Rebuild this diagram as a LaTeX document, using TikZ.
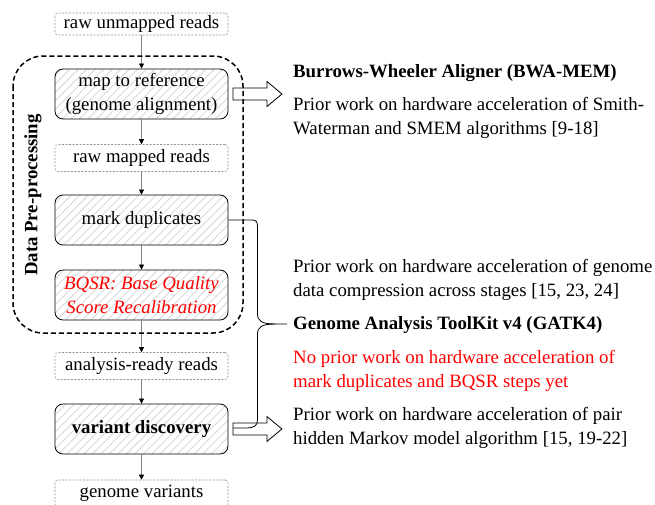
\documentclass[tikz,border=0pt]{standalone}
\usepackage{fontspec}
\setmainfont{Liberation Serif}
\usetikzlibrary{arrows.meta,patterns.meta,calc}
\begin{document}
\begin{tikzpicture}[x=1pt,y=-1pt,
  every node/.style={font=\fontsize{18.8}{24}\selectfont},
  databox/.style={draw=gray!85, dash pattern=on 2pt off 1.5pt, rounded corners=3pt,
    minimum width=173pt, inner sep=0pt, line width=0.6pt},
  procbox/.style={draw=black, rounded corners=8pt, minimum width=173pt, minimum height=50pt,
    inner sep=0pt, line width=0.8pt, align=center,
    pattern={Lines[angle=45,distance=6pt,line width=0.9pt]}, pattern color=gray!30},
  flow/.style={draw=gray, line width=0.6pt, -{Triangle[length=5pt,width=5pt,color=black]}},
  region/.style={draw=black, line width=1.5pt, dash pattern=on 5pt off 3pt, rounded corners=30pt},
  desc/.style={anchor=west, inner sep=0pt, align=left},
  bracestyle/.style={draw=black, line width=0.8pt},
  blockarrow/.pic={\draw[fill=white, line width=0.8pt] (0,-6) -- (34,-6) -- (34,-12.5) -- (49,0) -- (34,12.5) -- (34,6) -- (0,6) -- cycle;}
]
\useasboundingbox (0,0) rectangle (655,504);

% flow nodes
\node[databox, minimum height=22pt] (raw) at (141.5,24) {raw unmapped reads};
\node[procbox] (map) at (141.5,94) {map to reference\\(genome alignment)};
\node[databox, minimum height=27pt] (mapped) at (141.5,158) {raw mapped reads};
\node[procbox] (mark) at (141.5,220) {mark duplicates};
\node[procbox, text=red, font=\fontsize{18.8}{24}\selectfont\itshape] (bqsr) at (141.5,295) {BQSR: Base Quality\\Score Recalibration};
\node[databox, minimum height=27pt] (ready) at (141.5,366) {analysis-ready reads};
\node[procbox, font=\fontsize{18.8}{24}\selectfont\bfseries] (vd) at (141.5,429) {variant discovery};
\node[databox, minimum height=27pt] (gv) at (141.5,493.5) {genome variants};

\draw[flow] (raw) -- (map);
\draw[flow] (map) -- (mapped);
\draw[flow] (mapped) -- (mark);
\draw[flow] (mark) -- (bqsr);
\draw[flow] (bqsr) -- (ready);
\draw[flow] (ready) -- (vd);
\draw[flow] (vd) -- (gv);

% right-hand texts
\node[desc, font=\fontsize{18.8}{24}\selectfont\bfseries] (bwa) at (293,73) {Burrows-Wheeler Aligner (BWA-MEM)};
\node[desc] (bwadesc) at (293,118) {Prior work on hardware acceleration of Smith-\\Waterman and SMEM algorithms [9-18]};
\node[desc] (comp) at (293,280) {Prior work on hardware acceleration of genome\\data compression across stages [15, 23, 24]};
\node[desc, font=\fontsize{18.8}{24}\selectfont\bfseries] (gatk) at (293,325) {Genome Analysis ToolKit v4 (GATK4)};
\node[desc, text=red] (noprior) at (293,371) {No prior work on hardware acceleration of\\mark duplicates and BQSR steps yet};
\node[desc] (phmm) at (293,428) {Prior work on hardware acceleration of pair\\hidden Markov model algorithm [15, 19-22]};

% block arrows
\pic at ($(map.east)+(4.5,0)$) {blockarrow};
\pic at ($(vd.east)+(4.5,0)$) {blockarrow};

% brace from mark duplicates / variant discovery to GATK4
\coordinate (btip) at ($(gatk.west)+(-6,-1)$);
\coordinate (bend) at ($(vd.east)+(4.5,-1)$);
\draw[bracestyle] (mark.east) -- (252,220) .. controls (256.5,220) and (257.5,222) .. (257.5,227)
  -- (257.5,314) .. controls (257.5,321) and (262,324) .. (275,324) -- (btip);
\draw[bracestyle] (275,324) .. controls (262,324) and (257.5,327) .. (257.5,334)
  -- (257.5,420) .. controls (257.5,426) and (254,428) .. (245,428) -- (bend);

% data pre-processing region
\draw[region] (13,56) rectangle (243,333);
\node[rotate=90, font=\fontsize{18.8}{24}\selectfont\bfseries] (dpp) at (33,195) {Data Pre-processing};
\end{tikzpicture}
\end{document}
